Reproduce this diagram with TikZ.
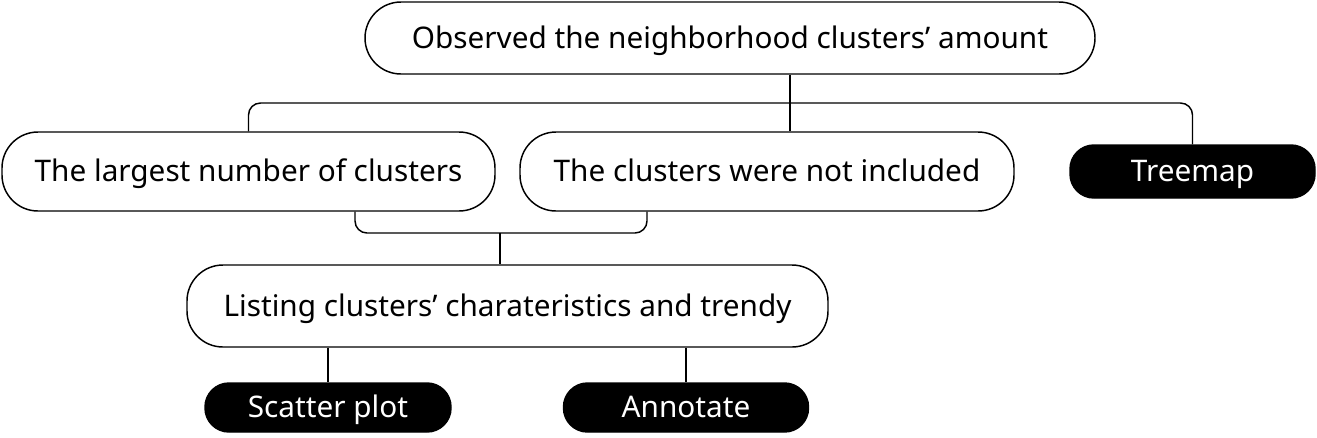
\documentclass[tikz,border=0pt]{standalone}
\usepackage{fontspec}
\setmainfont{Noto Sans}
\begin{document}
\begin{tikzpicture}[x=0.75pt,y=-0.75pt,line width=1.1pt,
  txt/.style={font=\fontsize{22.3}{25}\selectfont,text height=16.5pt,text depth=1pt},
  wbox/.style={txt,draw=black,fill=white,rounded corners=27pt,inner sep=0pt},
  bbox/.style={txt,draw=black,fill=black,text=white,rounded corners=18pt,inner sep=0pt},
  conn/.style={draw=black,line width=1.1pt}]
\useasboundingbox (0,0) rectangle (1317,437);
\node[wbox,minimum width=547.5pt,minimum height=54pt] (top) at (730,38) {Observed the neighborhood clusters’ amount};
\node[wbox,minimum width=369.75pt,minimum height=59.25pt] (left) at (248.5,171.5) {The largest number of clusters};
\node[wbox,minimum width=370.5pt,minimum height=59.25pt] (mid) at (767,171.5) {The clusters were not included};
\node[bbox,minimum width=183.75pt,minimum height=39.75pt] (tree) at (1192.5,171.5) {Treemap};
\node[wbox,minimum width=480.75pt,minimum height=61.5pt] (list) at (507.5,306) {Listing clusters’ charateristics and trendy};
\node[bbox,minimum width=184.5pt,minimum height=36.75pt] (scatter) at (328,407.5) {Scatter plot};
\node[bbox,minimum width=183.75pt,minimum height=36.75pt] (annot) at (686,407.5) {Annotate};
\coordinate (tx) at (790,0);
\coordinate (hy) at (0,103);
\coordinate (b1) at (355,233);
\coordinate (b2) at (647,233);
\coordinate (bm) at (500,233);
\draw[conn] (top.south -| tx) -- (mid.north -| tx);
\draw[conn,rounded corners=9pt] (left.north) -- (left.north |- hy) -- (tree.north |- hy) -- (tree.north);
\draw[conn,rounded corners=9pt] (left.south -| b1) -- (b1) -- (b2) -- (mid.south -| b2);
\draw[conn] (bm) -- (list.north -| bm);
\draw[conn] (list.south -| scatter) -- (scatter.north);
\draw[conn] (list.south -| annot) -- (annot.north);
\end{tikzpicture}
\end{document}
